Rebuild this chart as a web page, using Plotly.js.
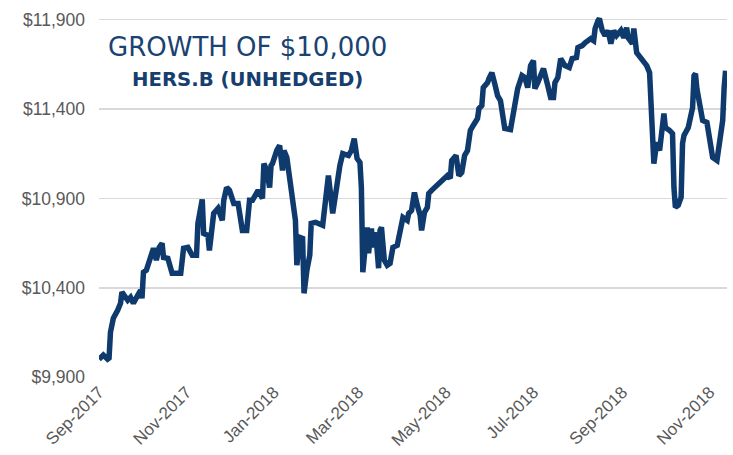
<!DOCTYPE html>
<html>
<head>
<meta charset="utf-8">
<script src="https://cdn.plot.ly/plotly-3.0.1.min.js"></script>
<style>html,body{margin:0;padding:0;background:#fff}#chart{width:733px;height:455px}</style>
</head>
<body>
<div id="chart"></div>
<script>
const dates = ['2017-09-01','2017-09-04','2017-09-07','2017-09-08','2017-09-09','2017-09-11','2017-09-14','2017-09-16','2017-09-17','2017-09-19','2017-09-21','2017-09-23','2017-09-25','2017-09-28','2017-09-30',
'2017-10-01','2017-10-02','2017-10-04','2017-10-07','2017-10-09','2017-10-11','2017-10-13','2017-10-15','2017-10-16','2017-10-19','2017-10-22','2017-10-25','2017-10-28','2017-10-30',
'2017-11-02','2017-11-05','2017-11-08','2017-11-09','2017-11-12','2017-11-13','2017-11-16','2017-11-17','2017-11-20','2017-11-23','2017-11-26','2017-11-27','2017-11-29',
'2017-12-01','2017-12-04','2017-12-07','2017-12-10','2017-12-13','2017-12-15','2017-12-17','2017-12-21','2017-12-24','2017-12-25','2017-12-27','2017-12-29','2017-12-30','2017-12-31',
'2018-01-03','2018-01-05','2018-01-07','2018-01-08','2018-01-10','2018-01-12','2018-01-14','2018-01-16','2018-01-17','2018-01-19','2018-01-21','2018-01-22','2018-01-24','2018-01-26','2018-01-27','2018-01-30',
'2018-02-04','2018-02-07','2018-02-08','2018-02-11','2018-02-14','2018-02-16','2018-02-18','2018-02-22','2018-02-24','2018-02-26','2018-02-28',
'2018-03-02','2018-03-03','2018-03-04','2018-03-07','2018-03-08','2018-03-10','2018-03-11','2018-03-13','2018-03-15','2018-03-16','2018-03-17','2018-03-19','2018-03-21','2018-03-23','2018-03-25','2018-03-28','2018-03-30',
'2018-04-01','2018-04-04','2018-04-05','2018-04-07','2018-04-09','2018-04-11','2018-04-13','2018-04-14','2018-04-16','2018-04-18','2018-04-19','2018-04-21','2018-04-23','2018-04-26','2018-04-29',
'2018-05-02','2018-05-04','2018-05-05','2018-05-08','2018-05-10','2018-05-12','2018-05-14','2018-05-16','2018-05-18','2018-05-20','2018-05-23','2018-05-24','2018-05-26','2018-05-27','2018-05-30','2018-05-31',
'2018-06-02','2018-06-04','2018-06-06','2018-06-08','2018-06-09','2018-06-11','2018-06-15','2018-06-17','2018-06-20','2018-06-23','2018-06-25','2018-06-27','2018-06-29',
'2018-07-01','2018-07-02','2018-07-04','2018-07-08','2018-07-11','2018-07-13','2018-07-15','2018-07-16','2018-07-18','2018-07-20','2018-07-23','2018-07-26','2018-07-28','2018-07-31',
'2018-08-01','2018-08-04','2018-08-06','2018-08-10','2018-08-12','2018-08-13','2018-08-15','2018-08-16','2018-08-18','2018-08-20','2018-08-22','2018-08-24','2018-08-26','2018-08-28','2018-08-31',
'2018-09-02','2018-09-04','2018-09-05','2018-09-08','2018-09-09','2018-09-11','2018-09-14','2018-09-16','2018-09-18','2018-09-20','2018-09-21','2018-09-23','2018-09-25','2018-09-27','2018-09-30',
'2018-10-01','2018-10-04','2018-10-06','2018-10-07','2018-10-08','2018-10-10','2018-10-12','2018-10-13','2018-10-14','2018-10-17','2018-10-20','2018-10-21','2018-10-22','2018-10-23','2018-10-25','2018-10-27','2018-10-30',
'2018-11-01','2018-11-03','2018-11-06','2018-11-08','2018-11-10','2018-11-11','2018-11-12'];

const growthValues = [10000,10023,10000,10006,10151,10230,10274,10313,10375,10358,10330,10347,10313,10358,10386,
10341,10487,10498,10565,10621,10554,10626,10649,10570,10565,10481,10481,10481,10621,
10626,10582,10582,10760,10894,10704,10693,10609,10816,10844,10777,10889,10961,
10945,10872,10872,10721,10721,10889,10889,10945,10900,11095,11056,10961,11084,11095,
11168,11196,11056,11168,11129,11017,10928,10777,10526,10682,10676,10369,10498,10582,10760,10766,
10749,11017,11028,10816,11000,11084,11151,11140,11168,11235,11123,
11101,10961,10487,10738,10593,10732,10626,10710,10509,10721,10738,10554,10526,10537,10626,10637,10710,
10794,10777,10816,10833,10933,10861,10805,10721,10822,10850,10928,10945,10961,10989,11012,
11028,11012,11112,11140,11028,11045,11140,11168,11280,11308,11347,11403,11420,11520,11548,11570,
11604,11542,11475,11447,11380,11291,11285,11380,11514,11587,11576,11520,11643,
11671,11514,11548,11626,11531,11464,11464,11548,11576,11682,11643,11632,11682,11688,
11744,11755,11771,11794,11783,11850,11894,11906,11839,11811,11839,11766,11839,11811,11839,
11799,11855,11799,11766,11850,11716,11682,11660,11643,11604,11420,11095,11213,11168,11375,
11297,11280,11263,10961,10850,10861,10906,11207,11252,11297,11408,11587,11598,11514,11431,11336,11325,
11235,11129,11112,11241,11336,11520,11615];

const xTickVals = ['2017-09-01','2017-11-01','2018-01-01','2018-03-01','2018-05-01','2018-07-01','2018-09-01','2018-11-01'];
const xTickText = ['Sep-2017','Nov-2017','Jan-2018','Mar-2018','May-2018','Jul-2018','Sep-2018','Nov-2018'];
const yTickVals = [9900,10400,10900,11400,11900];
const yTickText = ['$9,900','$10,400','$10,900','$11,400','$11,900'];

const titleMain = 'GROWTH OF $10,000';
const titleSub = 'HERS.B (UNHEDGED)';

const navy = '#0f3a6d';
const xTickFont = {family:'Liberation Sans Narrow, Liberation Sans, Arial, sans-serif', size:17, color:'#595959'};
const yTickFont = {family:'Liberation Sans, Arial, sans-serif', size:17.5, color:'#595959'};

Plotly.newPlot('chart', [{
  x: dates, y: growthValues, type:'scatter', mode:'lines',
  line:{color:navy, width:5.5, shape:'linear'}, hoverinfo:'skip'
}], {
  width:733, height:455,
  margin:{l:99, r:6, t:17, b:77, pad:0},
  paper_bgcolor:'#ffffff', plot_bgcolor:'#ffffff',
  showlegend:false,
  xaxis:{
    type:'date', range:['2017-09-01','2018-11-13'],
    tickmode:'array', tickvals:xTickVals, ticktext:xTickText, tickangle:-45,
    showgrid:false, zeroline:false, showline:false, ticks:'',
    tickfont:xTickFont
  },
  yaxis:{
    range:[9895,11915], tickmode:'array', tickvals:yTickVals, ticktext:yTickText,
    showgrid:true, gridcolor:'#d9d9d9', gridwidth:1.5,
    zeroline:false, showline:false, ticks:'', ticklabelstandoff:13,
    tickfont:yTickFont, automargin:false
  },
  annotations:[
    {text:titleMain, xref:'paper', yref:'paper', x:0.237, y:0.917, xanchor:'center', yanchor:'middle',
     showarrow:false, font:{family:'DejaVu Sans, Noto Sans, sans-serif', size:26, color:'#1a4272'}},
    {text:'<b>'+titleSub+'</b>', xref:'paper', yref:'paper', x:0.237, y:0.8255, xanchor:'center', yanchor:'middle',
     showarrow:false, font:{family:'DejaVu Sans, Noto Sans, sans-serif', size:19.7, color:'#163e6e'}}
  ]
}, {staticPlot:true, displayModeBar:false});
</script>
</body>
</html>
